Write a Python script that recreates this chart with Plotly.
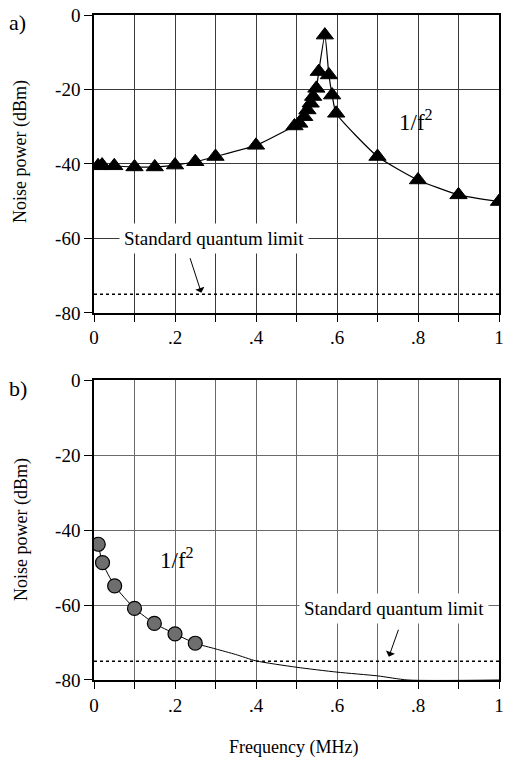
import plotly.graph_objects as go

# ---- data ----
freq_a = [0.01, 0.02, 0.05, 0.1, 0.15, 0.2, 0.25, 0.3, 0.4, 0.495, 0.507, 0.519, 0.527,
          0.535, 0.541, 0.549, 0.555, 0.57, 0.58, 0.588, 0.598, 0.7, 0.8, 0.9, 1.0]
power_a = [-40.5, -40.3, -40.5, -40.8, -40.8, -40.3, -39.4, -38.0, -35.0, -29.8, -29.1, -27.3, -25.5,
           -23.7, -21.9, -19.7, -15.2, -5.4, -16.1, -21.5, -26.4, -38.0, -44.3, -48.3, -50.1]

freq_b = [0.0105, 0.021, 0.051, 0.10, 0.149, 0.2, 0.25]
power_b = [-43.8, -48.7, -54.9, -60.9, -64.9, -67.7, -70.2]
fit_tail_freq_b = [0.3, 0.35, 0.4, 0.5, 0.6, 0.7, 0.775, 1.0]
fit_tail_power_b = [-71.7, -73.2, -74.9, -76.6, -77.9, -78.9, -80.0, -80.0]

sql_level = -75
freq_span = [0, 1]

x_tickvals = [0, 0.2, 0.4, 0.6, 0.8, 1.0]
x_ticktext = ["0", ".2", ".4", ".6", ".8", "1"]
y_tickvals = [0, -20, -40, -60, -80]
y_ticktext = ["0", "-20", "-40", "-60", "-80"]

FONT = "'Liberation Serif', 'Times New Roman', Times, 'DejaVu Serif', serif"

fig = go.Figure()

# panel a
fig.add_trace(go.Scatter(x=freq_a, y=power_a, mode="lines+markers",
                         line=dict(color="black", width=1.2, shape="spline", smoothing=0.5),
                         marker=dict(symbol="triangle-up", size=15, color="black",
                                     line=dict(color="black", width=1)),
                         xaxis="x", yaxis="y", showlegend=False))
fig.add_trace(go.Scatter(x=freq_span, y=[sql_level, sql_level], mode="lines",
                         line=dict(color="black", width=1.5, dash="dot"),
                         xaxis="x", yaxis="y", showlegend=False))

# panel b
fig.add_trace(go.Scatter(x=freq_b + fit_tail_freq_b, y=power_b + fit_tail_power_b, mode="lines",
                         line=dict(color="black", width=1, shape="spline", smoothing=0.6),
                         xaxis="x2", yaxis="y2", showlegend=False))
fig.add_trace(go.Scatter(x=freq_b, y=power_b, mode="markers",
                         marker=dict(symbol="circle", size=14, color="#6e6e6e",
                                     line=dict(color="black", width=1.2)),
                         xaxis="x2", yaxis="y2", showlegend=False))
fig.add_trace(go.Scatter(x=freq_span, y=[sql_level, sql_level], mode="lines",
                         line=dict(color="black", width=1.5, dash="dot"),
                         xaxis="x2", yaxis="y2", showlegend=False))


def xaxis_style(anchor, gridcolor):
    return dict(range=[0, 1], anchor=anchor, domain=[0, 1],
                tickvals=x_tickvals, ticktext=x_ticktext,
                ticks="outside", ticklen=7, tickcolor="black", tickwidth=1,
                showgrid=True, gridcolor=gridcolor, gridwidth=1,
                minor=dict(dtick=0.1, tick0=0, showgrid=True, gridcolor=gridcolor, gridwidth=1,
                           ticks="outside", ticklen=7, tickcolor="black"),
                showline=True, linecolor="black", linewidth=1.5, mirror=True,
                zeroline=False, tickfont=dict(family=FONT, size=19, color="black"))


def yaxis_style(anchor, domain, gridcolor):
    return dict(range=[-80, 0], anchor=anchor, domain=domain,
                tickvals=y_tickvals, ticktext=y_ticktext,
                ticks="outside", ticklen=8, tickcolor="black", tickwidth=1,
                showgrid=True, gridcolor=gridcolor, gridwidth=1,
                showline=True, linecolor="black", linewidth=1.5, mirror=True,
                zeroline=False, tickfont=dict(family=FONT, size=19, color="black"))


fig.update_layout(
    width=509, height=768,
    margin=dict(l=94, r=5, t=15, b=88),
    paper_bgcolor="white", plot_bgcolor="white",
    xaxis=xaxis_style("y", "#3a3a3a"),
    yaxis=yaxis_style("x", [0.552, 1.0], "#3a3a3a"),
    xaxis2=xaxis_style("y2", "#6a6a6a"),
    yaxis2=yaxis_style("x2", [0.0, 0.4511], "#6a6a6a"),
    font=dict(family=FONT, color="black"),
)

ann = []
# Standard quantum limit labels
ann.append(dict(x=0.296, y=-60, xref="x", yref="y", text="Standard quantum limit",
                xanchor="center", yanchor="middle",
                showarrow=False, bgcolor="white", borderpad=4,
                font=dict(family=FONT, size=19, color="black")))
ann.append(dict(x=0.265, y=-74.6, ax=0.236, ay=-64.9, xref="x", yref="y", axref="x", ayref="y",
                text="", showarrow=True, arrowhead=1, arrowsize=1.6, arrowwidth=1,
                arrowcolor="black"))
ann.append(dict(x=0.74, y=-60.9, xref="x2", yref="y2", text="Standard quantum limit",
                xanchor="center", yanchor="middle",
                showarrow=False, bgcolor="white", borderpad=4,
                font=dict(family=FONT, size=19, color="black")))
ann.append(dict(x=0.728, y=-73.8, ax=0.753, ay=-66.2, xref="x2", yref="y2", axref="x2", ayref="y2",
                text="", showarrow=True, arrowhead=1, arrowsize=1.6, arrowwidth=1,
                arrowcolor="black"))
# 1/f^2 labels
ann.append(dict(x=0.795, y=-28.2, xref="x", yref="y", text="1/f<sup>2</sup>", showarrow=False,
                xanchor="center", yanchor="middle",
                font=dict(family=FONT, size=23, color="black")))
ann.append(dict(x=0.204, y=-47.5, xref="x2", yref="y2", text="1/f<sup>2</sup>", showarrow=False,
                xanchor="center", yanchor="middle",
                font=dict(family=FONT, size=23, color="black")))
# panel letters
ann.append(dict(x=-0.1878, y=0.988, xref="paper", yref="paper", text="a)", showarrow=False,
                xanchor="center", yanchor="middle",
                font=dict(family=FONT, size=22, color="black")))
ann.append(dict(x=-0.1878, y=0.439, xref="paper", yref="paper", text="b)", showarrow=False,
                xanchor="center", yanchor="middle",
                font=dict(family=FONT, size=22, color="black")))
# axis titles
ann.append(dict(x=-0.1805, y=0.7955, xref="paper", yref="paper", text="Noise power (dBm)",
                xanchor="center", yanchor="middle",
                textangle=-90, showarrow=False, font=dict(family=FONT, size=18, color="black")))
ann.append(dict(x=-0.1805, y=0.227, xref="paper", yref="paper", text="Noise power (dBm)",
                xanchor="center", yanchor="middle",
                textangle=-90, showarrow=False, font=dict(family=FONT, size=18, color="black")))
ann.append(dict(x=0.4927, y=-0.1008, xref="paper", yref="paper", text="Frequency (MHz)",
                xanchor="center", yanchor="middle",
                showarrow=False, font=dict(family=FONT, size=18, color="black")))

fig.update_layout(annotations=ann)

fig.write_html("out.html")
